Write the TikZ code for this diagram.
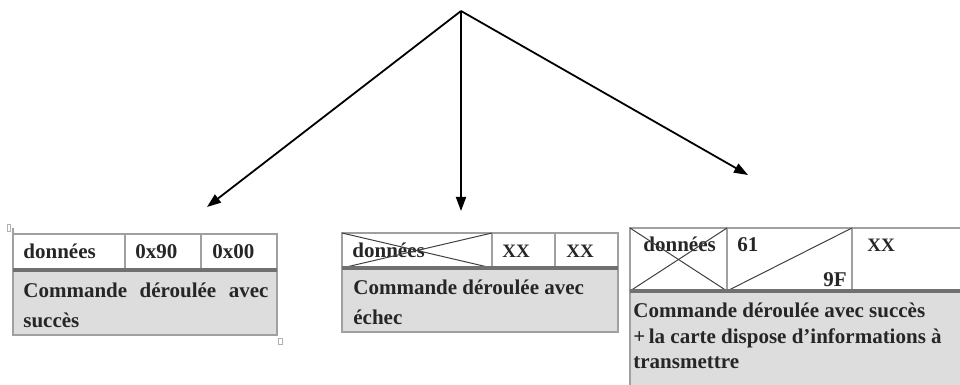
\documentclass[tikz,border=0pt]{standalone}
\usepackage{fontspec}
\setmainfont{Liberation Serif}
\usetikzlibrary{arrows.meta}
\definecolor{panelgray}{HTML}{DDDDDD}
\definecolor{cellline}{HTML}{A0A0A0}
\definecolor{sepgray}{HTML}{707070}
\definecolor{handlegray}{HTML}{B0B0B0}
\begin{document}
\begin{tikzpicture}[x=0.5pt,y=-0.5pt,
  txt/.style={anchor=base west,inner sep=0pt,text=black!85,font=\fontsize{10.5}{15}\selectfont\bfseries},
  small/.style={font=\fontsize{9.5}{12}\selectfont\bfseries},
  panel/.style={fill=panelgray},
  grid/.style={draw=cellline,line width=0.6pt},
  sepline/.style={draw=sepgray,line width=1.6pt},
  cross/.style={draw=black!75,line width=0.5pt},
  handle/.style={draw=handlegray,line width=0.5pt},
  branch/.style={draw=black,line width=0.9pt,-{Triangle[length=7pt,width=5pt]}}]
\useasboundingbox (0,0) rectangle (960,385);

% ---- branching arrows ----
\coordinate (apex) at (461,11);
\coordinate (tipL) at (207,207);
\coordinate (tipM) at (461,211);
\coordinate (tipR) at (748,175);
\draw[branch] (apex) -- (tipL);
\draw[branch] (apex) -- (tipM);
\draw[branch] (apex) -- (tipR);

% ---- status word 90 00 ----
\fill[panel] (13,270) rectangle (277,335);
\draw[grid] (13,234) rectangle (277,335);
\draw[grid] (13,228) -- (13,234);
\draw[grid] (125,234) -- (125,270);
\draw[grid] (201,234) -- (201,270);
\draw[sepline] (13,270) -- (277,270);
\draw[handle] (7,225) rectangle (10,232);
\draw[handle] (278,338) rectangle (282,344);
\node[txt] (d1) at (23,259) {données};
\node[txt] (a1) at (135,259) {0x90};
\node[txt] (b1) at (212,259) {0x00};
% multi-line texts are anchored on the baseline of their last line
\node[txt,align=left] (m1) at (23,328)
  {\makebox[122.5pt][s]{Commande déroulée avec}\\succès};

% ---- status word XX XX ----
\fill[panel] (342,268) rectangle (618,332);
\draw[grid] (342,233) rectangle (618,332);
\draw[grid] (492,233) -- (492,268);
\draw[grid] (555,233) -- (555,268);
\node[txt] (d2) at (352,257) {données};
\draw[cross] (342,233) -- (492,268);
\draw[cross] (342,268) -- (492,233);
\draw[sepline] (342,268) -- (618,268);
\node[txt,small] (a2) at (502,257) {XX};
\node[txt,small] (b2) at (566,257) {XX};
\node[txt,align=left] (m2) at (353,324)
  {Commande déroulée avec\\échec};

% ---- status word 61 XX ----
\fill[panel] (630,291) rectangle (962,386);
\draw[grid] (962,228) -- (630,228) -- (630,386);
\draw[grid] (727,228) -- (727,291);
\draw[grid] (852,228) -- (852,291);
\node[txt] (d3) at (643,252) {données};
\draw[cross] (630,228) -- (727,291);
\draw[cross] (630,291) -- (727,228);
\draw[cross] (727,291) -- (852,228);
\draw[sepline] (630,291) -- (962,291);
\node[txt] (a3) at (737,252) {61};
\node[txt,anchor=base east] (c3) at (847,286) {9F};
\node[txt,small] (b3) at (867,252) {XX};
\node[txt,align=left,font=\fontsize{10.5}{12.5}\selectfont\bfseries] (m3) at (633,368)
  {Commande déroulée avec succès\\
   +\,la carte dispose d’informations à\\
   transmettre};
\end{tikzpicture}
\end{document}
